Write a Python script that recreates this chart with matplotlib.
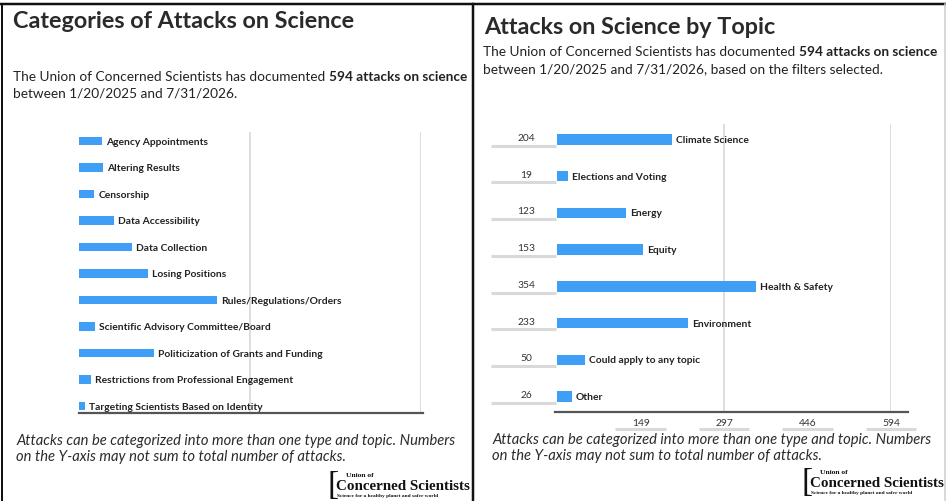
import matplotlib
matplotlib.use("Agg")
import matplotlib.pyplot as plt
from matplotlib.lines import Line2D
from matplotlib.transforms import blended_transform_factory

# --- data ---
total_attacks = 594
categories = [
    "Agency Appointments",
    "Altering Results",
    "Censorship",
    "Data Accessibility",
    "Data Collection",
    "Losing Positions",
    "Rules/Regulations/Orders",
    "Scientific Advisory Committee/Board",
    "Politicization of Grants and Funding",
    "Restrictions from Professional Engagement",
    "Targeting Scientists Based on Identity",
]
category_counts = [40, 42, 26, 60, 92, 119, 240, 28, 130, 20, 10]

topics = [
    "Climate Science",
    "Elections and Voting",
    "Energy",
    "Equity",
    "Health & Safety",
    "Environment",
    "Could apply to any topic",
    "Other",
]
topic_counts = [204, 19, 123, 153, 354, 233, 50, 26]

grid_values = [297, 594]
tick_values = [149, 297, 446, 594]

FONT = ["Lato", "DejaVu Sans"]
BAR = "#3f9ff7"
TXT = "#222222"
GRID = "#d4d4d4"

W, H = 946, 502
fig = plt.figure(figsize=(W / 100, H / 100), dpi=100)
fig.patch.set_facecolor("white")
renderer = fig.canvas.get_renderer()


def rect(x0, y0, x1, y1):
    return [x0 / W, 1 - y1 / H, (x1 - x0) / W, (y1 - y0) / H]


def ftext(x, y, s, **kw):
    kw.setdefault("family", FONT)
    kw.setdefault("color", TXT)
    return fig.text(x / W, 1 - y / H, s, **kw)


def rich_line(x, y, parts, size):
    for s, weight in parts:
        t = ftext(x, y, s, fontsize=size, fontweight=weight, va="center")
        x += t.get_window_extent(renderer).width


def fline(xs, ys, color, lw):
    fig.add_artist(Line2D([v / W for v in xs], [1 - v / H for v in ys],
                          color=color, lw=lw * 0.72))


def logo(x, y):
    ftext(x, y, "[", fontsize=24, family="Liberation Serif", color="#111",
          va="center")
    ftext(x + 19, y - 10, "Union of", fontsize=5.4, family="Liberation Serif",
          fontweight="bold", color="#111", va="center")
    ftext(x + 9, y + 1, "Concerned Scientists", fontsize=10.8,
          family="Liberation Serif", fontweight="bold", color="#111", va="center")
    ftext(x + 10, y + 10.5, "Science for a healthy planet and safer world",
          fontsize=3.9, family="Liberation Serif", fontweight="bold",
          color="#111", va="center")


# --- frames ---
fline([0, 946], [5, 5], "#111", 2.5)
fline([2, 2], [5, 502], "#111", 2)
fline([473, 473], [5, 502], "#111", 2.5)
fline([944.5, 944.5], [5, 502], "#cccccc", 1.5)

# --- left panel: categories ---
ftext(13, 22, "Categories of Attacks on Science", fontsize=16.8,
      fontweight="bold", color="#2a2a2a", va="center")
rich_line(13, 77, [("The Union of Concerned Scientists has documented ", "normal"),
                   (f"{total_attacks} attacks on science", "bold")], 9.85)
rich_line(13, 93, [("between 1/20/2025 and 7/31/2026.", "normal")], 9.85)

ax1 = fig.add_axes(rect(79, 133, 421, 414))
ax1.barh(range(len(categories)), category_counts, height=0.33, color=BAR)
for i, (lab, v) in enumerate(zip(categories, category_counts)):
    ax1.annotate(lab, xy=(v, i), xytext=(3, 0), textcoords="offset points",
                 va="center", ha="left", fontsize=7.4, fontweight="bold",
                 family=FONT, color=TXT)
for g in grid_values:
    ax1.axvline(g, color=GRID, lw=1.1, zorder=0)
ax1.set_xlim(0, total_attacks)
ax1.set_ylim(10.26, -0.34)
ax1.plot([0, 1.007], [0, 0], transform=ax1.transAxes, color="#555", lw=1.6,
         clip_on=False)
ax1.axis("off")

ftext(16, 441, "Attacks can be categorized into more than one type and topic. Numbers",
      fontsize=10.6, style="italic", va="center", color="#2b2b2b")
ftext(16, 457, "on the Y-axis may not sum to total number of attacks.",
      fontsize=10.6, style="italic", va="center", color="#2b2b2b")
logo(327, 486)

# --- right panel: topics ---
ftext(484, 27, "Attacks on Science by Topic", fontsize=16.8,
      fontweight="bold", color="#2a2a2a", va="center")
rich_line(483, 52, [("The Union of Concerned Scientists has documented ", "normal"),
                    (f"{total_attacks} attacks on science", "bold")], 9.85)
rich_line(483, 69, [("between 1/20/2025 and 7/31/2026, based on the filters selected.",
                     "normal")], 9.85)

ax2 = fig.add_axes(rect(557, 125, 891, 413))
ax2.barh(range(len(topics)), topic_counts, height=0.29, color=BAR)
for i, (lab, v) in enumerate(zip(topics, topic_counts)):
    ax2.annotate(lab, xy=(v, i), xytext=(3, 0), textcoords="offset points",
                 va="center", ha="left", fontsize=7.4, fontweight="bold",
                 family=FONT, color=TXT)
    ax2.annotate(str(v), xy=(0, i), xytext=(-22, 1.5), textcoords="offset points",
                 va="center", ha="center", fontsize=7.4, family=FONT, color="#333")
    ax2.plot([-118, -2], [i + 0.17, i + 0.17], color="#d9d9d9", lw=2.2,
             clip_on=False, solid_capstyle="butt")
for g in grid_values:
    ax2.axvline(g, color=GRID, lw=1.1, zorder=0)
ax2.set_xlim(0, total_attacks)
ax2.set_ylim(7.42, -0.42)
ax2.plot([-0.006, 1.05], [0, 0], transform=ax2.transAxes, color="#555", lw=1.6,
         clip_on=False)
tr = blended_transform_factory(ax2.transData, ax2.transAxes)
for t in tick_values:
    ax2.text(t, -0.035, str(t), transform=tr, ha="center", va="center",
             fontsize=7.4, family=FONT, color="#333")
    ax2.plot([t - 45, t + 45], [-0.06, -0.06], transform=tr, color="#d9d9d9",
             lw=2.2, clip_on=False, solid_capstyle="butt")
ax2.axis("off")

ftext(492, 440, "Attacks can be categorized into more than one type and topic. Numbers",
      fontsize=10.6, style="italic", va="center", color="#2b2b2b")
ftext(492, 456, "on the Y-axis may not sum to total number of attacks.",
      fontsize=10.6, style="italic", va="center", color="#2b2b2b")
logo(801, 483)

fig.savefig("out.png", dpi=100)
